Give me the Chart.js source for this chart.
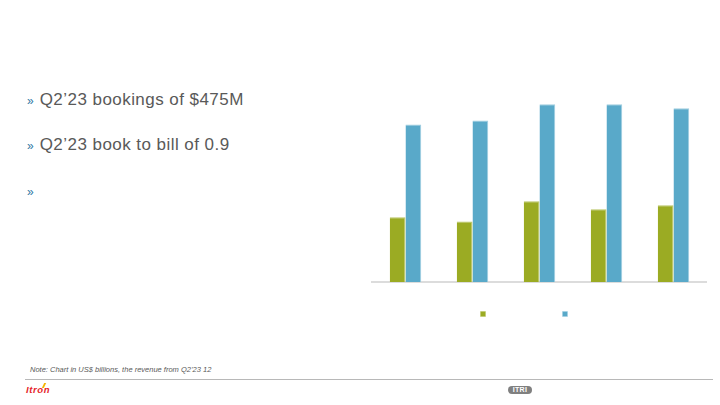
<!DOCTYPE html>
<html>
<head>
<meta charset="utf-8">
<script src="https://cdn.jsdelivr.net/npm/chart.js@4"></script>
<style>
  body { margin: 0; width: 720px; height: 405px; background: #fff; position: relative; overflow: hidden;
         font-family: "Liberation Sans", Arial, sans-serif; }
  .bullet { position: absolute; left: 27px; font-size: 17px; letter-spacing: 0.45px; color: #595959; white-space: nowrap; }
  .bullet .mark { color: #2f78a3; font-size: 12px; margin-right: 6px; letter-spacing: 0; }
  #wrap { position: absolute; left: 347px; top: 70px; width: 360px; height: 305px; }
  .note { position: absolute; left: 30px; top: 365px; font-size: 7.5px; font-style: italic; color: #595959; }
  .rule { position: absolute; left: 25px; top: 379px; width: 688px; height: 1px; background: #b8b8b8; }
  .itron { position: absolute; left: 26px; top: 384px; font-size: 9.5px; font-weight: bold; font-style: italic;
           color: #e5262b; letter-spacing: 0.6px; }
  .itron i { position: absolute; left: 17px; top: -1px; width: 2px; height: 5px; background: #f5b400; transform: skewX(-25deg); }
  .itri { position: absolute; left: 508px; top: 386px; width: 24px; height: 8px; border-radius: 4px; background: #808080;
          color: #fff; font-size: 7px; font-weight: bold; text-align: center; line-height: 8px; letter-spacing: 0.3px; }
</style>
</head>
<body>
<div class="bullet" style="top:90px"><span class="mark">»</span>Q2’23 bookings of $475M</div>
<div class="bullet" style="top:135px"><span class="mark">»</span>Q2’23 book to bill of 0.9</div>
<div class="bullet" style="top:181px"><span class="mark">»</span></div>
<div id="wrap"><canvas id="backlogChart"></canvas></div>
<div class="note">Note: Chart in US$ billions, the revenue from Q2’23 12</div>
<div class="rule"></div>
<div class="itron">Itron<i></i></div>
<div class="itri">ITRI</div>

<script>
// quarters (labels not shown on the slide)
const quarters = ["Q2'22", "Q3'22", "Q4'22", "Q1'23", "Q2'23"];
const twelveMonthBacklog = [1.6, 1.5, 2.0, 1.8, 1.9];
const totalBacklog = [3.9, 4.0, 4.4, 4.4, 4.3];

const ctx = document.getElementById("backlogChart").getContext("2d");

new Chart(ctx, {
  type: "bar",
  data: {
    labels: quarters,
    datasets: [
      {
        label: "",
        data: twelveMonthBacklog,
        backgroundColor: "#9bab23",
        borderColor: "#b9c563",
        borderWidth: { top: 1, right: 1, left: 0, bottom: 0 },
        borderSkipped: false,
      },
      {
        label: "",
        data: totalBacklog,
        backgroundColor: "#59a9c9",
        borderColor: "#9fcde0",
        borderWidth: { top: 1, right: 1, left: 0, bottom: 0 },
        borderSkipped: false,
      },
    ],
  },
  options: {
    responsive: true,
    maintainAspectRatio: false,
    animation: false,
    layout: { padding: { top: 10, left: 0, right: 0, bottom: 0 } },
    datasets: { bar: { categoryPercentage: 0.47, barPercentage: 1 } },
    scales: {
      x: {
        grid: { display: false },
        ticks: { display: false },
        border: { display: true, color: "#dcdcdc", width: 2 },
        afterFit: (scale) => { scale.height = -45; }, // let the legend sit close under the baseline
      },
      y: {
        min: 0,
        max: 5,
        grid: { display: false },
        ticks: { display: false },
        border: { display: false },
        afterFit: (scale) => { scale.width = 25; }, // pushes bars right of legend centre
      },
    },
    plugins: {
      legend: {
        position: "bottom",
        labels: { boxWidth: 5, boxHeight: 5, padding: 71, font: { size: 12 } },
      },
      tooltip: { enabled: false },
    },
  },
});
</script>
</body>
</html>
